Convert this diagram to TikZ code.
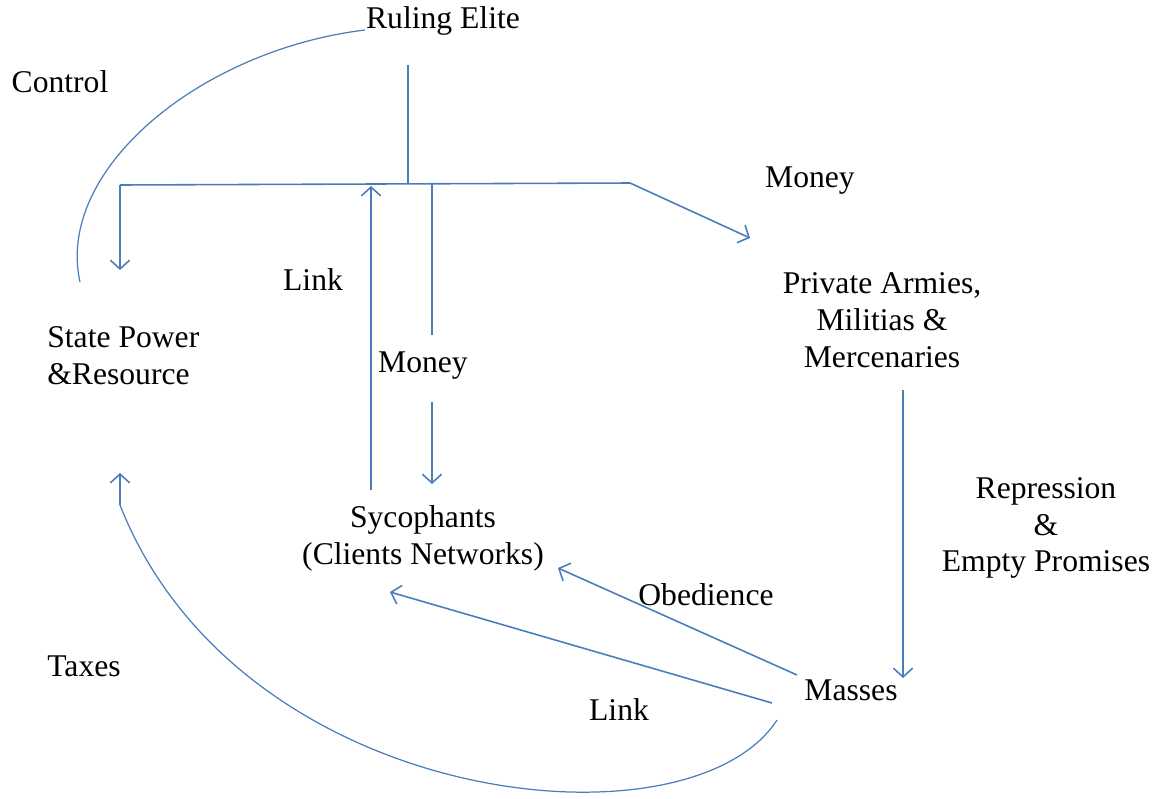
\documentclass[tikz,border=0pt]{standalone}
\usepackage{fontspec}
\setmainfont{Liberation Serif}
\usetikzlibrary{arrows.meta}
\definecolor{lineblue}{RGB}{74,126,187}

\begin{document}
\begin{tikzpicture}[x=0.02cm, y=-0.02cm,
	lbl/.style={inner sep=0pt, align=center, font=\fontsize{18}{21}\selectfont},
	ln/.style={color=lineblue, line width=0.9pt},
	arr/.style={ln, -{Straight Barb[length=5pt, width=11pt]}}]
	\useasboundingbox (0,0) rectangle (1159,798);

	\node[lbl] (elite) at (443,21) {Ruling Elite};
	\node[lbl] (control) at (60,82) {Control};
	\node[lbl] (money1) at (810,181) {Money};
	\node[lbl] (armies) at (882,320) {Private Armies,\\Militias \&\\Mercenaries};
	\node[lbl, anchor=west, align=left] (state) at (47,356) {State Power\\\&Resource};
	\node[lbl] (link1) at (313,280) {Link};
	\node[lbl] (money2) at (423,366) {Money};
	\node[lbl] (syco) at (423,538) {Sycophants\\(Clients Networks)};
	\node[lbl] (repr) at (1046,528) {Repression\\\&\\Empty Promises};
	\node[lbl] (masses) at (851,690) {Masses};
	\node[lbl] (obed) at (706,595) {Obedience};
	\node[lbl] (link2) at (619,710) {Link};
	\node[lbl] (taxes) at (84,666) {Taxes};

	% bar below the elite
	\coordinate (stem) at (408,65);
	\coordinate (barL) at (120,185);
	\coordinate (barM) at (408,184);
	\coordinate (barR) at (630,183);
	\draw[ln] (stem) -- (barM);
	\draw[ln] (barL) -- (barR);
	\draw[arr] (barL) -- (120,270);
	\draw[arr] (barR) -- (750,238);

	% sycophants
	\draw[arr] (371,490) -- (371,186);
	\draw[ln] (432,183) -- (432,335);
	\draw[arr] (432,402) -- (432,484);

	% masses
	\draw[arr] (903,390) -- (903,678);
	\draw[arr] (797,675) -- (558,568);
	\draw[arr] (772,703) -- (390,592);

	% control and taxes
	\draw[ln, line width=0.7pt] (365,30) .. controls (200,50) and (55,170) .. (80,282);
	\draw[ln, line width=0.7pt] (777,720) .. controls (690,855) and (240,810) .. (120,505);
	\draw[arr] (120,505) -- (120,473);
\end{tikzpicture}
\end{document}
